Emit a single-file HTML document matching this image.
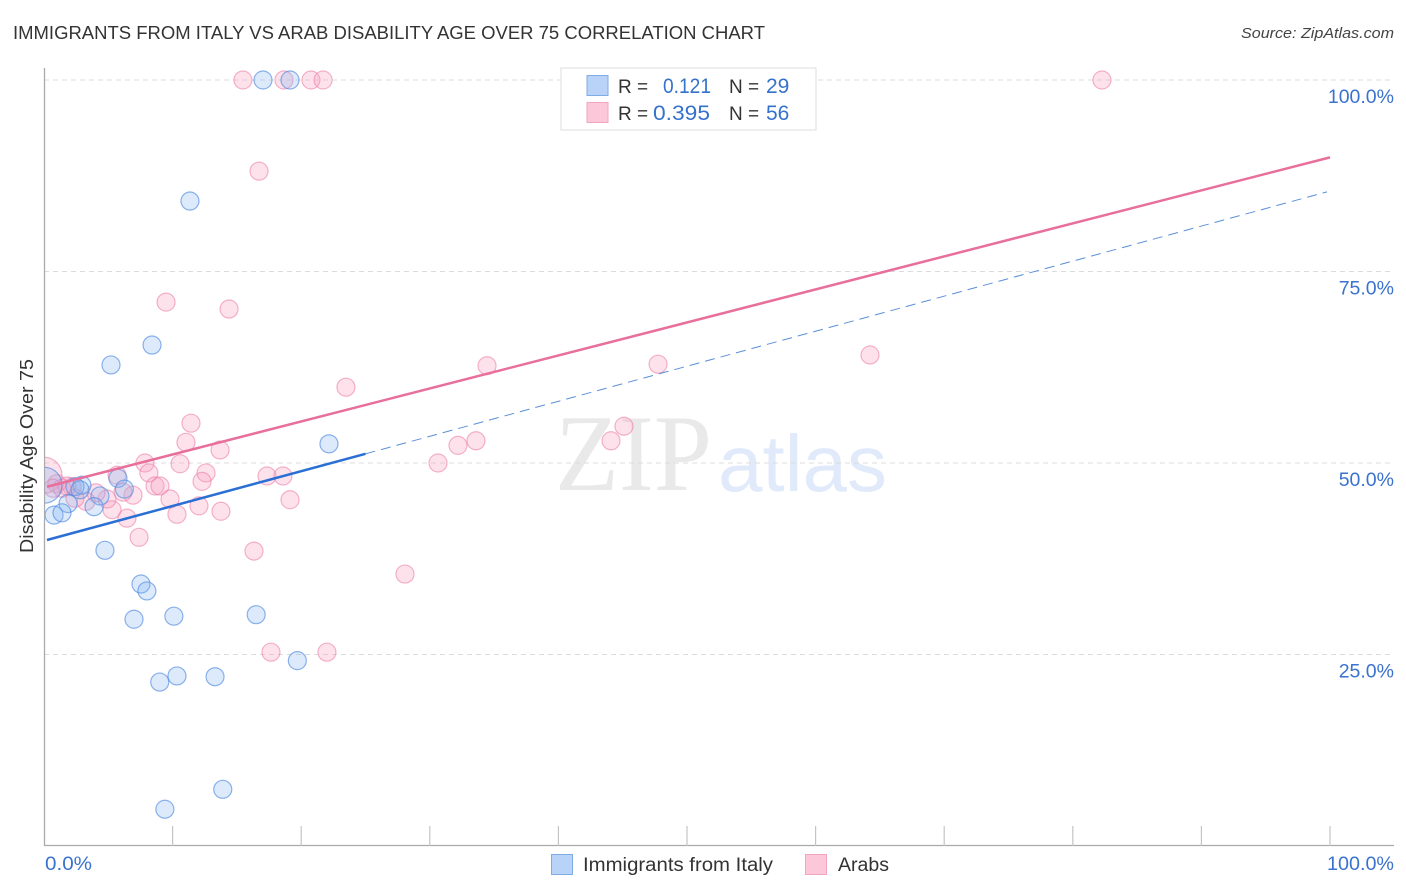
<!DOCTYPE html>
<html lang="en">
<head>
<meta charset="utf-8">
<title>Immigrants from Italy vs Arab Disability Age Over 75 Correlation Chart</title>
<style>
html,body{margin:0;padding:0;background:#fff;}
svg{display:block;font-family:"Liberation Sans",sans-serif;}
</style>
</head>
<body>
<svg id="chart" width="1406" height="892" viewBox="0 0 1406 892" xmlns="http://www.w3.org/2000/svg">
  <defs>
    <clipPath id="plot-clip"><rect x="45" y="60" width="1349" height="786"/></clipPath>
  </defs>
  <rect width="1406" height="892" fill="#fff"/>
  <text x="13" y="39" font-size="18" fill="#333" textLength="752" lengthAdjust="spacingAndGlyphs">IMMIGRANTS FROM ITALY VS ARAB DISABILITY AGE OVER 75 CORRELATION CHART</text>
  <text x="1394" y="38" font-size="15" font-style="italic" fill="#444" text-anchor="end" textLength="153" lengthAdjust="spacingAndGlyphs">Source: ZipAtlas.com</text>

  <g>
    <text x="555" y="490" font-family="'Liberation Serif',serif" font-size="109" fill="#e9e9e9" textLength="157" lengthAdjust="spacingAndGlyphs">ZIP</text>
    <text x="718" y="491" font-size="80" fill="#e1eafa" textLength="169" lengthAdjust="spacingAndGlyphs">atlas</text>
  </g>

  <g id="grid"></g>
  <g id="axes"></g>
  <g id="marks-arab" clip-path="url(#plot-clip)"></g>
  <g id="marks-italy" clip-path="url(#plot-clip)"></g>
  <g id="trends"></g>

  <rect x="0" y="440" width="43.800" height="80" fill="#fff"/>
  <text transform="translate(33,456) rotate(-90)" font-size="18" fill="#333" text-anchor="middle" textLength="194" lengthAdjust="spacingAndGlyphs">Disability Age Over 75</text>

  <g>
    <rect x="561" y="68" width="255" height="62" fill="#fff" stroke="#ddd" stroke-width="1"/>
    <rect x="587" y="75.500" width="21" height="20" fill="#b8d3f7" stroke="#7fabe6" stroke-width="1"/>
    <rect x="587" y="102.500" width="21" height="20" fill="#fcc8d9" stroke="#f2a5bf" stroke-width="1"/>
    <text x="618" y="93" font-size="19" fill="#333">R =</text>
    <text x="711" y="93" font-size="21" fill="#3572cc" text-anchor="end" textLength="48" lengthAdjust="spacingAndGlyphs">0.121</text>
    <text x="729" y="93" font-size="19" fill="#333">N =</text>
    <text x="766" y="93" font-size="21" fill="#3572cc">29</text>
    <text x="618" y="120" font-size="19" fill="#333">R =</text>
    <text x="710" y="120" font-size="21" fill="#3572cc" text-anchor="end" textLength="57" lengthAdjust="spacingAndGlyphs">0.395</text>
    <text x="729" y="120" font-size="19" fill="#333">N =</text>
    <text x="766" y="120" font-size="21" fill="#3572cc">56</text>
  </g>

  <g>
    <rect x="551.500" y="854.500" width="21" height="20" fill="#b8d3f7" stroke="#7fabe6" stroke-width="1"/>
    <text x="583" y="871" font-size="19" fill="#333" textLength="190" lengthAdjust="spacingAndGlyphs">Immigrants from Italy</text>
    <rect x="805.500" y="854.500" width="21" height="20" fill="#fcc8d9" stroke="#f2a5bf" stroke-width="1"/>
    <text x="838" y="871" font-size="19" fill="#333" textLength="51" lengthAdjust="spacingAndGlyphs">Arabs</text>
  </g>

  <text x="45" y="870" font-size="19" fill="#3a72cf" textLength="47" lengthAdjust="spacingAndGlyphs">0.0%</text>
  <text x="1394" y="870" font-size="19" fill="#3a72cf" text-anchor="end" textLength="67" lengthAdjust="spacingAndGlyphs">100.0%</text>
</svg>

<script>
const yTickValues = [25, 50, 75, 100];
const yTickLabels = ["25.0%", "50.0%", "75.0%", "100.0%"];
const xTickValues = [10, 20, 30, 40, 50, 60, 70, 80, 90, 100];

const italyX = [17.03, 19.13, 11.35, 8.4, 5.21, 22.16, 5.75, 6.25, 2.95, 2.41, 4.35, 1.87, 3.89, 0.78, 1.4, 4.74, 7.54, 8.0, 7.0, 10.1, 16.5, 19.7, 10.34, 9.0, 13.3, 13.9, 9.4, 2.8];
const italyY = [100, 100, 84.2, 65.4, 62.8, 52.5, 48.0, 46.6, 47.1, 46.9, 45.7, 44.7, 44.3, 43.2, 43.5, 38.6, 34.2, 33.3, 29.6, 30.0, 30.2, 24.2, 22.2, 21.4, 22.1, 7.4, 4.8, 46.5];
const italyClusterX = [0];
const italyClusterY = [47.1];

const arabX = [15.47, 18.66, 20.76, 21.7, 82.27, 16.72, 9.49, 14.39, 23.48, 34.45, 47.75, 64.23, 11.43, 11.04, 13.69, 33.59, 32.19, 44.09, 45.1, 30.64, 7.85, 10.58, 5.68, 8.16, 12.6, 12.29, 17.34, 18.58, 8.63, 9.02, 6.92, 6.14, 9.8, 19.13, 12.05, 13.76, 10.34, 6.45, 5.29, 7.39, 16.33, 28.07, 17.65, 22.0, 4.9, 4.04, 3.27, 2.41, 2.18, 1.4, 1.0, 0.7, 1.79];
const arabY = [100, 100, 100, 100, 100, 88.1, 71.0, 70.1, 59.9, 62.7, 62.9, 64.1, 55.2, 52.7, 51.7, 52.9, 52.3, 52.9, 54.8, 50.0, 50.0, 49.9, 48.4, 48.7, 48.7, 47.6, 48.3, 48.3, 47.0, 47.0, 45.8, 46.2, 45.3, 45.2, 44.4, 43.7, 43.3, 42.8, 43.9, 40.3, 38.5, 35.5, 25.3, 25.3, 45.3, 46.1, 45.0, 45.4, 46.9, 46.7, 47.3, 46.7, 47.0];
const arabClusterX = [0];
const arabClusterY = [48.4];

const italyTrendX = [0.23, 25];
const italyTrendY = [39.95, 51.2];
const italyProjectionX = [25, 99.77];
const italyProjectionY = [51.2, 85.4];
const arabTrendX = [0.23, 100];
const arabTrendY = [46.9, 89.9];

const NS = "http://www.w3.org/2000/svg";
function xScale(v) { return 44 + v * 12.86; }
function yScale(v) { return 846 - v * 7.66; }
function make(tag, attrs, parent) {
  const el = document.createElementNS(NS, tag);
  Object.keys(attrs).forEach(function (k) { el.setAttribute(k, attrs[k]); });
  parent.appendChild(el);
  return el;
}

const grid = document.getElementById("grid");
const axes = document.getElementById("axes");

yTickValues.forEach(function (v, i) {
  const line = make("line", { x1: 44, x2: 1394, y1: yScale(v), y2: yScale(v), stroke: "#dcdcdc", "stroke-width": 1, "stroke-dasharray": "5 4" }, grid);
  
  
  const label = make("text", { x: 1394, y: yScale(v) + 23, "font-size": 19.5, fill: "#3a72cf", "text-anchor": "end" }, axes);
  
  
  label.textContent = yTickLabels[i];
});

const yAxis = make("line", { x1: 44.5, x2: 44.5, y1: 68, y2: 846, stroke: "#aaa", "stroke-width": 1.3 }, axes);


const xAxis = make("line", { x1: 44, x2: 1394, y1: 845.5, y2: 845.5, stroke: "#aaa", "stroke-width": 1.3 }, axes);



xTickValues.forEach(function (v) {
  const tick = make("line", { x1: xScale(v), x2: xScale(v), y1: 826, y2: 846, stroke: "#c4c4c4", "stroke-width": 1.2 }, axes);
  
  
});

function drawPoints(group, xs, ys, r, fill, stroke, name) {
  xs.forEach(function (x, i) {
    const c = make("circle", { cx: xScale(x), cy: yScale(ys[i]), r: r, fill: fill, stroke: stroke, "stroke-width": 1.2 }, group);
    
    
  });
}

const arabFill = "rgba(247,160,192,0.3)";
const arabStroke = "rgba(236,125,165,0.58)";
const italyFill = "rgba(130,178,242,0.28)";
const italyStroke = "rgba(80,138,224,0.65)";
const arabGroup = document.getElementById("marks-arab");
const italyGroup = document.getElementById("marks-italy");

drawPoints(arabGroup, arabClusterX, arabClusterY, 18, arabFill, arabStroke, 'arab-cluster-point');
drawPoints(italyGroup, italyClusterX, italyClusterY, 18, italyFill, italyStroke, 'italy-cluster-point');
drawPoints(arabGroup, arabX, arabY, 9, arabFill, arabStroke, 'arab-point');
drawPoints(italyGroup, italyX, italyY, 9, italyFill, italyStroke, 'italy-point');

const trends = document.getElementById("trends");
const projection = make("line", { x1: xScale(italyProjectionX[0]), y1: yScale(italyProjectionY[0]), x2: xScale(italyProjectionX[1]), y2: yScale(italyProjectionY[1]), stroke: "#5a8fd8", "stroke-width": 1, "stroke-dasharray": "10 6" }, trends);


const italyTrend = make("line", { x1: xScale(italyTrendX[0]), y1: yScale(italyTrendY[0]), x2: xScale(italyTrendX[1]), y2: yScale(italyTrendY[1]), stroke: "#2a6fd4", "stroke-width": 2.5 }, trends);


const arabTrend = make("line", { x1: xScale(arabTrendX[0]), y1: yScale(arabTrendY[0]), x2: xScale(arabTrendX[1]), y2: yScale(arabTrendY[1]), stroke: "#e86f9b", "stroke-width": 2.5 }, trends);


</script>
</body>
</html>
